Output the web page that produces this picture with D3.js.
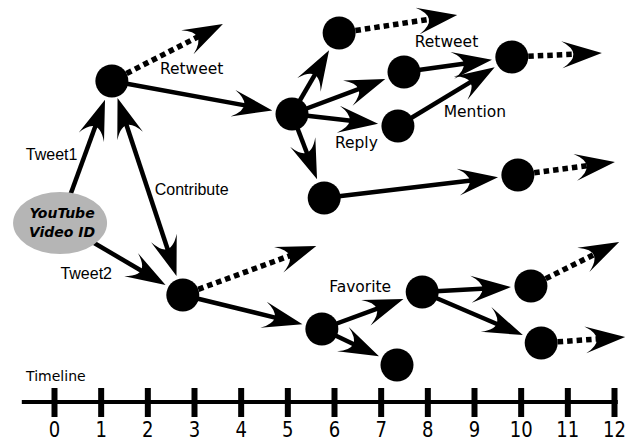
<!DOCTYPE html>
<html>
<head>
<meta charset="utf-8">
<script src="https://cdn.jsdelivr.net/npm/d3@7"></script>
<style>
  html, body { margin: 0; padding: 0; background: #fff; }
  svg { display: block; }
</style>
</head>
<body>
<svg id="chart" width="631" height="441"></svg>
<script>
// ---------------- data ----------------
const tickValues = [0, 1, 2, 3, 4, 5, 6, 7, 8, 9, 10, 11, 12];
const tickLabels = ["0", "1", "2", "3", "4", "5", "6", "7", "8", "9", "10", "11", "12"];
const axisExtent = [-0.69, 12.08];
const axisTitle = "Timeline";

// source (YouTube video)
const sourceId = "V";
const sourceLines = ["YouTube", "Video ID"];
const sourceTime = 0.13;
const sourceLevel = 223;

// tweet nodes: time on the timeline, vertical level
const nodeIds   = ["A", "B", "C", "D", "E", "F", "G", "H", "I", "J", "K", "L", "M", "N"];
const nodeTime  = [1.24, 5.10, 6.11, 7.50, 7.37, 9.81, 5.79, 9.94, 2.76, 5.74, 7.35, 7.89, 10.22, 10.44];
const nodeLevel = [81, 114, 33, 72, 126, 57, 198, 175, 295, 329, 365, 292, 286, 343];

// directed links
const edgeFrom = ["V", "V", "A", "B", "B", "B", "B", "D", "E", "G", "I", "J", "J", "L", "L"];
const edgeTo   = ["A", "I", "B", "C", "D", "E", "G", "F", "F", "H", "J", "L", "K", "M", "N"];
// two-way link
const twoWayFrom = ["A"];
const twoWayTo   = ["I"];

// onward propagation (dotted)
const spreadFrom  = ["A", "C", "F", "H", "I", "M", "N"];
const spreadTime  = [3.62, 8.64, 11.74, 12.02, 5.62, 12.11, 12.24];
const spreadLevel = [24, 15, 53, 162, 246, 242, 337];

// action labels
const actionText  = ["Retweet", "Retweet", "Mention", "Reply", "Favorite"];
const actionTime  = [2.95, 8.41, 9.02, 6.48, 6.56];
const actionLevel = [74, 47, 117, 148, 292];

const linkText  = ["Tweet1", "Contribute", "Tweet2"];
const linkTime  = [-0.05, 2.95, 0.69];
const linkLevel = [160, 195, 279];

// ---------------- drawing ----------------
const svg = d3.select("#chart");
const x = d3.scaleLinear().domain([0, 12]).range([54, 614]);
const y = d3.scaleLinear().domain([0, 441]).range([0, 441]);

const R = 16.5;
const TIP_GAP = 20;
const HEAD_BACK = 25;
const arrowPath = "M0,0 L-40,-13.5 Q-17,0 -40,13.5 Z";

const pos = {};
pos[sourceId] = { x: x(sourceTime), y: y(sourceLevel) };
nodeIds.forEach((id, i) => { pos[id] = { x: x(nodeTime[i]), y: y(nodeLevel[i]) }; });

const gLines = svg.append("g");
const gHeads = svg.append("g");

function unit(a, b) {
  const dx = b.x - a.x, dy = b.y - a.y, L = Math.hypot(dx, dy);
  return { ux: dx / L, uy: dy / L, ang: Math.atan2(dy, dx) * 180 / Math.PI };
}
function head(px, py, ang) {
  gHeads.append("path").attr("d", arrowPath)
    .attr("transform", `translate(${px},${py}) rotate(${ang})`)
    .attr("fill", "#000");
}

// solid directed links
edgeFrom.forEach((f, i) => {
  const s = pos[f], t = pos[edgeTo[i]];
  const u = unit(s, t);
  const tip = { x: t.x - u.ux * TIP_GAP, y: t.y - u.uy * TIP_GAP };
  gLines.append("line")
    .attr("x1", s.x).attr("y1", s.y)
    .attr("x2", tip.x - u.ux * HEAD_BACK).attr("y2", tip.y - u.uy * HEAD_BACK)
    .attr("stroke", "#000").attr("stroke-width", 4.5);
  head(tip.x, tip.y, u.ang);
});

// two-way links
twoWayFrom.forEach((f, i) => {
  const s = pos[f], t = pos[twoWayTo[i]];
  const u = unit(s, t);
  const tipT = { x: t.x - u.ux * TIP_GAP, y: t.y - u.uy * TIP_GAP };
  const tipS = { x: s.x + u.ux * (TIP_GAP - 2), y: s.y + u.uy * (TIP_GAP - 2) };
  gLines.append("line")
    .attr("x1", tipS.x + u.ux * HEAD_BACK).attr("y1", tipS.y + u.uy * HEAD_BACK)
    .attr("x2", tipT.x - u.ux * HEAD_BACK).attr("y2", tipT.y - u.uy * HEAD_BACK)
    .attr("stroke", "#000").attr("stroke-width", 4.5);
  head(tipT.x, tipT.y, u.ang);
  head(tipS.x, tipS.y, u.ang + 180);
});

// dotted onward arrows
spreadFrom.forEach((f, i) => {
  const s = pos[f];
  const tip = { x: x(spreadTime[i]), y: y(spreadLevel[i]) };
  const u = unit(s, tip);
  gLines.append("line")
    .attr("x1", s.x + u.ux * R).attr("y1", s.y + u.uy * R)
    .attr("x2", tip.x - u.ux * (HEAD_BACK + 2)).attr("y2", tip.y - u.uy * (HEAD_BACK + 2))
    .attr("stroke", "#000").attr("stroke-width", 5.5)
    .attr("stroke-dasharray", "5.5,4");
  head(tip.x, tip.y, u.ang);
});

// nodes
svg.append("g").selectAll("circle")
  .data(nodeIds)
  .join("circle")
  .attr("cx", d => pos[d].x)
  .attr("cy", d => pos[d].y)
  .attr("r", R)
  .attr("fill", "#000");

// source ellipse
const src = pos[sourceId];
svg.append("ellipse")
  .attr("cx", src.x).attr("cy", src.y)
  .attr("rx", 47).attr("ry", 31)
  .attr("fill", "#b5b5b5");
svg.append("g").selectAll("text")
  .data(sourceLines)
  .join("text")
  .attr("x", src.x + 2)
  .attr("y", (d, i) => src.y - 5 + i * 19)
  .attr("text-anchor", "middle")
  .attr("font-family", "'DejaVu Sans', sans-serif")
  .attr("font-weight", "bold")
  .attr("font-style", "italic")
  .attr("font-size", 14)
  .attr("fill", "#000")
  .text(d => d);

// action labels
svg.append("g").selectAll("text")
  .data(actionText)
  .join("text")
  .attr("x", (d, i) => x(actionTime[i]))
  .attr("y", (d, i) => y(actionLevel[i]))
  .attr("text-anchor", "middle")
  .attr("font-family", "'DejaVu Sans', sans-serif")
  .attr("font-size", 15.5)
  .attr("fill", "#000")
  .text(d => d);

// link labels
svg.append("g").selectAll("text")
  .data(linkText)
  .join("text")
  .attr("x", (d, i) => x(linkTime[i]))
  .attr("y", (d, i) => y(linkLevel[i]))
  .attr("text-anchor", "middle")
  .attr("font-family", "'Liberation Sans', Arial, sans-serif")
  .attr("font-size", 16)
  .attr("fill", "#000")
  .text(d => d);

// timeline axis
const axisY = 402;
const axis = d3.axisBottom(x)
  .tickValues(tickValues)
  .tickFormat((d, i) => tickLabels[i])
  .tickSize(0);
const gAxis = svg.append("g").attr("transform", `translate(0,${axisY})`).call(axis);
gAxis.select(".domain").remove();
gAxis.insert("line", ":first-child")
  .attr("x1", x(axisExtent[0])).attr("x2", x(axisExtent[1]))
  .attr("y1", 0).attr("y2", 0)
  .attr("stroke", "#000").attr("stroke-width", 4);
gAxis.selectAll(".tick line")
  .attr("y1", -14).attr("y2", 15)
  .attr("stroke", "#000").attr("stroke-width", 6);
gAxis.selectAll(".tick text")
  .attr("y", 35).attr("dy", null)
  .attr("fill", "#000")
  .attr("font-family", "'DejaVu Sans', sans-serif")
  .attr("font-size", 22)
  .attr("transform", "scale(0.82,1)");

svg.append("text")
  .attr("x", x(0.04)).attr("y", y(381))
  .attr("text-anchor", "middle")
  .attr("font-family", "'DejaVu Sans', sans-serif")
  .attr("font-size", 14)
  .attr("fill", "#000")
  .text(axisTitle);
</script>
</body>
</html>
